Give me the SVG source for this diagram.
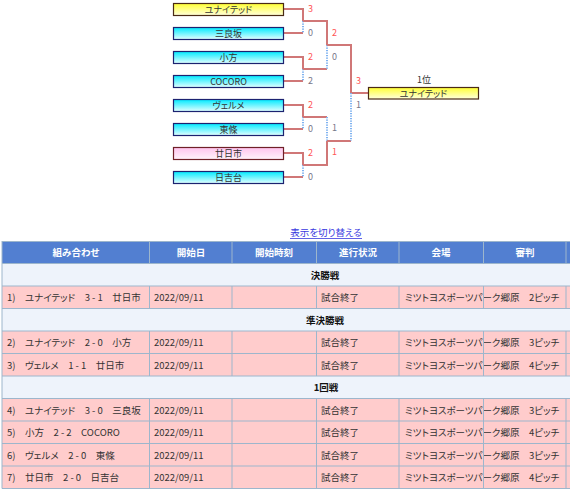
<svg xmlns="http://www.w3.org/2000/svg" width="570" height="494" viewBox="0 0 570 494">
<style>
text{font-family:"Noto Sans CJK JP","Noto Sans",sans-serif;font-feature-settings:"palt";}
.bx{stroke-width:1.2}
.bt{font-size:9px;fill:#333;text-anchor:middle}
.win{stroke:#d07777;stroke-width:2;fill:none}
.lose{stroke:#7fb2f0;stroke-width:2;fill:none;stroke-dasharray:1.2 1.3}
.sw{font-size:9px;fill:#f55}
.sl{font-size:9px;fill:#778}
.hd{fill:#fff;font-size:9.5px;font-weight:bold;text-anchor:middle}
.sec{fill:#111;font-size:9.5px;font-weight:bold;text-anchor:middle}
.td{fill:#333;font-size:9.5px}
.gl{stroke:#9db6cc;stroke-width:1;fill:none}
</style>
<defs>
<linearGradient id="gy" x1="0" y1="0" x2="0" y2="1"><stop offset="0" stop-color="#ffff33"/><stop offset="1" stop-color="#ffffdd"/></linearGradient>
<linearGradient id="gc" x1="0" y1="0" x2="0" y2="1"><stop offset="0" stop-color="#00eaff"/><stop offset="1" stop-color="#e6ffff"/></linearGradient>
<linearGradient id="gp" x1="0" y1="0" x2="0" y2="1"><stop offset="0" stop-color="#ffc4ee"/><stop offset="1" stop-color="#fff4fb"/></linearGradient>
</defs>

<g id="connectors">
<path class="win" d="M284 9H303V21M284 33H303"/>
<path class="lose" d="M303 21V33"/>
<path class="win" d="M284 57H303V69M284 81H303"/>
<path class="lose" d="M303 69V81"/>
<path class="win" d="M284 105H303V117M284 129H303"/>
<path class="lose" d="M303 117V129"/>
<path class="win" d="M284 153H303V165M284 177H303"/>
<path class="lose" d="M303 165V177"/>
<path class="win" d="M303 21H327V45M303 69H327"/>
<path class="lose" d="M327 45V69"/>
<path class="win" d="M303 117H327M303 165H327V141"/>
<path class="lose" d="M327 117V141"/>
<path class="win" d="M327 45H351V93H368M327 141H351"/>
<path class="lose" d="M351 93V141"/>
</g>

<g id="scores">
<text class="sw" x="308" y="11.5">3</text>
<text class="sl" x="308" y="35.5">0</text>
<text class="sw" x="308" y="59.5">2</text>
<text class="sl" x="308" y="83.5">2</text>
<text class="sw" x="308" y="107.5">2</text>
<text class="sl" x="308" y="131.5">0</text>
<text class="sw" x="308" y="155.5">2</text>
<text class="sl" x="308" y="179.5">0</text>
<text class="sw" x="332" y="35.5">2</text>
<text class="sl" x="332" y="59.5">0</text>
<text class="sl" x="332" y="131">1</text>
<text class="sw" x="332" y="155">1</text>
<text class="sw" x="356" y="83.5">3</text>
<text class="sl" x="356" y="107.5">1</text>
</g>

<g id="n-united"><rect class="bx" x="173.5" y="3.5" width="110" height="12" fill="url(#gy)" stroke="#4a2a14"/><text class="bt" x="228.5" y="12.5">ユナイテッド</text></g>
<g id="n-miyoshizaka"><rect class="bx" x="173.5" y="27.5" width="110" height="12" fill="url(#gc)" stroke="#1c2270"/><text class="bt" x="228.5" y="36.5">三良坂</text></g>
<g id="n-ogata"><rect class="bx" x="173.5" y="51.5" width="110" height="12" fill="url(#gc)" stroke="#1c2270"/><text class="bt" x="228.5" y="60.5">小方</text></g>
<g id="n-cocoro"><rect class="bx" x="173.5" y="75.5" width="110" height="12" fill="url(#gc)" stroke="#1c2270"/><text class="bt" x="228.5" y="84.5">COCORO</text></g>
<g id="n-verme"><rect class="bx" x="173.5" y="99.5" width="110" height="12" fill="url(#gc)" stroke="#1c2270"/><text class="bt" x="228.5" y="108.5">ヴェルメ</text></g>
<g id="n-tojo"><rect class="bx" x="173.5" y="123.5" width="110" height="12" fill="url(#gc)" stroke="#1c2270"/><text class="bt" x="228.5" y="132.5">東條</text></g>
<g id="n-hatsukaichi"><rect class="bx" x="173.5" y="147.5" width="110" height="12" fill="url(#gp)" stroke="#702028"/><text class="bt" x="228.5" y="156.5">廿日市</text></g>
<g id="n-hiyoshidai"><rect class="bx" x="173.5" y="171.5" width="110" height="12" fill="url(#gc)" stroke="#1c2270"/><text class="bt" x="228.5" y="180.5">日吉台</text></g>
<g id="n-champion"><text class="bt" x="424" y="83">1位</text><rect class="bx" x="368.5" y="87.5" width="110" height="11.5" fill="url(#gy)" stroke="#4a2a14"/><text class="bt" x="423.5" y="96.5">ユナイテッド</text></g>

<g id="toggle">
<text x="326" y="236" font-size="9.5" fill="#3838e0" text-anchor="middle">表示を切り替える</text>
<line x1="290" y1="238.5" x2="362" y2="238.5" stroke="#3838e0" stroke-width="0.8"/>
</g>

<g id="table">
<rect x="2" y="241" width="568" height="22.5" fill="#527fd1"/>
<rect x="2" y="263.5" width="568" height="22.5" fill="#eef3fb"/>
<rect x="2" y="286" width="568" height="22.5" fill="#ffcccc"/>
<rect x="2" y="308.5" width="568" height="22.5" fill="#eef3fb"/>
<rect x="2" y="331" width="568" height="45" fill="#ffcccc"/>
<rect x="2" y="376" width="568" height="22.5" fill="#eef3fb"/>
<rect x="2" y="398.5" width="568" height="90" fill="#ffcccc"/>

<text class="hd" x="76" y="256">組み合わせ</text>
<text class="hd" x="191" y="256">開始日</text>
<text class="hd" x="274" y="256">開始時刻</text>
<text class="hd" x="358" y="256">進行状況</text>
<text class="hd" x="441" y="256">会場</text>
<text class="hd" x="525" y="256">審判</text>

<text class="sec" x="325" y="278.5">決勝戦</text>
<text class="sec" x="325" y="323.5">準決勝戦</text>
<text class="sec" x="326" y="391">1回戦</text>

<g class="td">
<text class="td" x="7" y="301">1)　ユナイテッド　3 - 1　廿日市</text>
<text class="td" x="154" y="301">2022/09/11</text>
<text class="td" x="321" y="301">試合終了</text>
<text class="td" x="405" y="301">ミツトヨスポーツパーク郷原　2ピッチ</text>

<text class="td" x="7" y="346">2)　ユナイテッド　2 - 0　小方</text>
<text class="td" x="154" y="346">2022/09/11</text>
<text class="td" x="321" y="346">試合終了</text>
<text class="td" x="405" y="346">ミツトヨスポーツパーク郷原　3ピッチ</text>

<text class="td" x="7" y="368.5">3)　ヴェルメ　1 - 1　廿日市</text>
<text class="td" x="154" y="368.5">2022/09/11</text>
<text class="td" x="321" y="368.5">試合終了</text>
<text class="td" x="405" y="368.5">ミツトヨスポーツパーク郷原　4ピッチ</text>

<text class="td" x="7" y="413.5">4)　ユナイテッド　3 - 0　三良坂</text>
<text class="td" x="154" y="413.5">2022/09/11</text>
<text class="td" x="321" y="413.5">試合終了</text>
<text class="td" x="405" y="413.5">ミツトヨスポーツパーク郷原　3ピッチ</text>

<text class="td" x="7" y="436">5)　小方　2 - 2　COCORO</text>
<text class="td" x="154" y="436">2022/09/11</text>
<text class="td" x="321" y="436">試合終了</text>
<text class="td" x="405" y="436">ミツトヨスポーツパーク郷原　4ピッチ</text>

<text class="td" x="7" y="458.5">6)　ヴェルメ　2 - 0　東條</text>
<text class="td" x="154" y="458.5">2022/09/11</text>
<text class="td" x="321" y="458.5">試合終了</text>
<text class="td" x="405" y="458.5">ミツトヨスポーツパーク郷原　3ピッチ</text>

<text class="td" x="7" y="481">7)　廿日市　2 - 0　日吉台</text>
<text class="td" x="154" y="481">2022/09/11</text>
<text class="td" x="321" y="481">試合終了</text>
<text class="td" x="405" y="481">ミツトヨスポーツパーク郷原　4ピッチ</text>
</g>

<path class="gl" d="M2 241.5H570M2 263.5H570M2 286H570M2 308.5H570M2 331H570M2 353.5H570M2 376H570M2 398.5H570M2 421H570M2 443.5H570M2 466H570M2 488.5H570M2 241V488.5"/>
<path class="gl" d="M149.5 241V263.5M232 241V263.5M316.5 241V263.5M399 241V263.5M483.5 241V263.5M566 241V263.5"/>
<path class="gl" d="M149.5 286V308.5M232 286V308.5M316.5 286V308.5M399 286V308.5M483.5 286V308.5M566 286V308.5"/>
<path class="gl" d="M149.5 331V376M232 331V376M316.5 331V376M399 331V376M483.5 331V376M566 331V376"/>
<path class="gl" d="M149.5 398.5V488.5M232 398.5V488.5M316.5 398.5V488.5M399 398.5V488.5M483.5 398.5V488.5M566 398.5V488.5"/>
</g>
</svg>
